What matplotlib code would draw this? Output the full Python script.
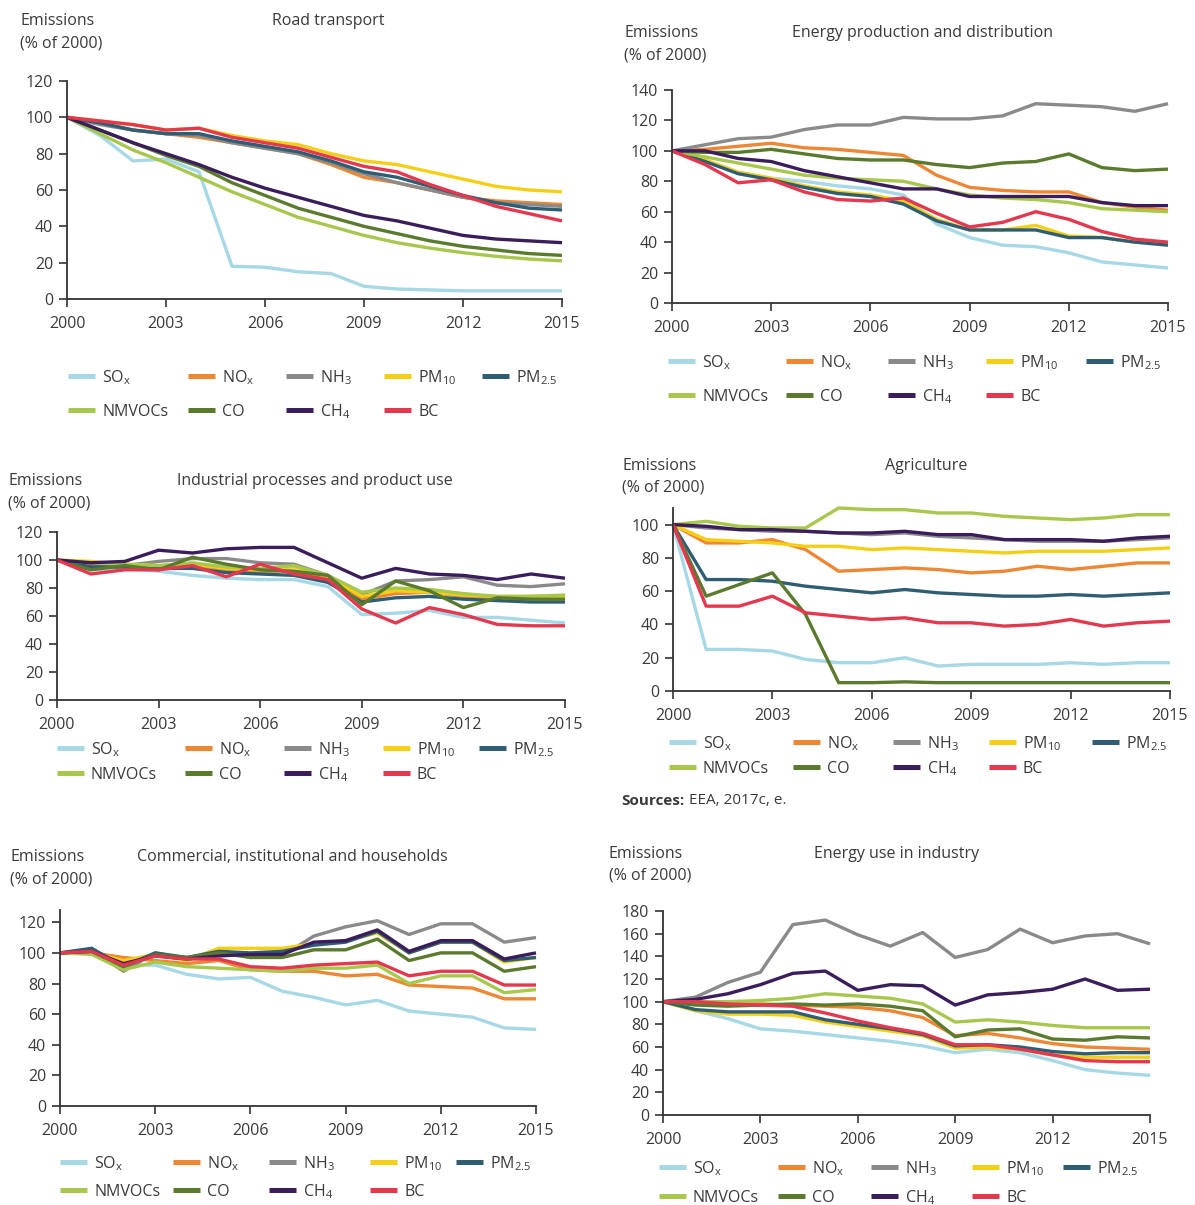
import matplotlib
matplotlib.use("Agg")
import matplotlib.pyplot as plt
from matplotlib.lines import Line2D

plt.rcParams['font.family'] = ['Open Sans', 'DejaVu Sans']
plt.rcParams['mathtext.fontset'] = 'custom'
plt.rcParams['mathtext.rm'] = 'Open Sans'
plt.rcParams['mathtext.it'] = 'Open Sans:italic'
plt.rcParams['mathtext.bf'] = 'Open Sans:bold'

YEARS = list(range(2000, 2016))
X_TICKS = [2000, 2003, 2006, 2009, 2012, 2015]

POLLUTANTS = ['SOx', 'NOx', 'NH3', 'PM10', 'PM2.5', 'NMVOCs', 'CO', 'CH4', 'BC']
LABELS = [r'SO$_\mathrm{x}$', r'NO$_\mathrm{x}$', r'NH$_\mathrm{3}$', r'PM$_\mathrm{10}$',
          r'PM$_\mathrm{2.5}$', 'NMVOCs', 'CO', r'CH$_\mathrm{4}$', 'BC']
COLORS = ['#a6d8e6', '#ee8733', '#8a8a8a', '#f5cf16', '#2f5e74',
          '#a7c84c', '#5a7a2d', '#3b1d5c', '#e4384f']

# Emissions, % of 2000 level, 2000-2015
ROAD = {
    'SOx':    [100, 90, 76, 77, 70, 18, 17.5, 15, 14, 7, 5.5, 5, 4.5, 4.5, 4.5, 4.5],
    'NOx':    [100, 97, 93, 91, 89, 86, 83, 80, 74, 67, 64, 60, 56, 54, 53, 52],
    'NH3':    [100, 96, 93, 91, 90, 86, 83, 80, 75, 69, 64, 60, 56, 53, 52, 51],
    'PM10':   [100, 98, 96, 93, 94, 90, 87, 85, 80, 76, 74, 70, 66, 62, 60, 59],
    'PM2.5':  [100, 97, 93, 91, 91, 87, 84, 81, 76, 70, 67, 62, 57, 53, 50, 49],
    'NMVOCs': [100, 91, 82, 75, 67, 59, 52, 45, 40, 35, 31, 28, 25.5, 23.5, 22, 21],
    'CO':     [100, 93, 86, 79, 73, 64, 57, 50, 45, 40, 36, 32, 29, 27, 25, 24],
    'CH4':    [100, 93, 86, 80, 74, 67, 61, 56, 51, 46, 43, 39, 35, 33, 32, 31],
    'BC':     [100, 98, 96, 93, 94, 89, 86, 83, 78, 73, 70, 63, 57, 51, 47, 43],
}

ENERGY_PROD = {
    'SOx':    [100, 94, 86, 82, 80, 77, 75, 71, 52, 43, 38, 37, 33, 27, 25, 23],
    'NOx':    [100, 101, 103, 105, 102, 101, 99, 97, 84, 76, 74, 73, 73, 66, 63, 61],
    'NH3':    [100, 104, 108, 109, 114, 117, 117, 122, 121, 121, 123, 131, 130, 129, 126, 131],
    'PM10':   [100, 94, 86, 82, 77, 73, 71, 67, 55, 48, 48, 51, 44, 43, 40, 39],
    'PM2.5':  [100, 93, 85, 81, 76, 72, 70, 65, 54, 48, 48, 48, 43, 43, 40, 38],
    'NMVOCs': [100, 96, 92, 88, 84, 82, 81, 80, 75, 71, 69, 68, 66, 62, 61, 60],
    'CO':     [100, 99, 99, 101, 98, 95, 94, 94, 91, 89, 92, 93, 98, 89, 87, 88],
    'CH4':    [100, 100, 95, 93, 87, 83, 79, 75, 75, 70, 70, 70, 70, 66, 64, 64],
    'BC':     [100, 91, 79, 81, 73, 68, 67, 69, 59, 50, 53, 60, 55, 47, 42, 40],
}

INDUSTRIAL = {
    'SOx':    [100, 93, 94, 92, 89, 87, 86, 86, 81, 61, 62, 64, 59, 59, 57, 55],
    'NOx':    [100, 96, 95, 95, 96, 92, 92, 92, 87, 72, 76, 77, 74, 73, 74, 74],
    'NH3':    [100, 95, 96, 99, 101, 101, 98, 97, 89, 75, 85, 86, 88, 82, 81, 83],
    'PM10':   [100, 99, 97, 96, 97, 94, 93, 95, 88, 74, 78, 77, 75, 74, 74, 74],
    'PM2.5':  [100, 95, 95, 94, 94, 91, 90, 89, 84, 70, 73, 74, 72, 71, 70, 70],
    'NMVOCs': [100, 98, 97, 96, 98, 95, 94, 96, 89, 77, 80, 79, 76, 74, 74, 75],
    'CO':     [100, 93, 96, 93, 102, 97, 93, 92, 89, 68, 85, 78, 66, 73, 72, 72],
    'CH4':    [100, 98, 99, 107, 105, 108, 109, 109, 98, 87, 94, 90, 89, 86, 90, 87],
    'BC':     [100, 90, 93, 93, 96, 88, 97, 90, 86, 65, 55, 66, 61, 54, 53, 53],
}

AGRICULTURE = {
    'SOx':    [100, 25, 25, 24, 19, 17, 17, 20, 15, 16, 16, 16, 17, 16, 17, 17],
    'NOx':    [100, 89, 89, 91, 85, 72, 73, 74, 73, 71, 72, 75, 73, 75, 77, 77],
    'NH3':    [100, 98, 97, 96, 96, 95, 94, 95, 93, 92, 91, 90, 90, 90, 91, 92],
    'PM10':   [100, 91, 90, 89, 87, 87, 85, 86, 85, 84, 83, 84, 84, 84, 85, 86],
    'PM2.5':  [100, 67, 67, 66, 63, 61, 59, 61, 59, 58, 57, 57, 58, 57, 58, 59],
    'NMVOCs': [100, 102, 99, 98, 98, 110, 109, 109, 107, 107, 105, 104, 103, 104, 106, 106],
    'CO':     [100, 57, 64, 71, 46, 5, 5, 5.5, 5, 5, 5, 5, 5, 5, 5, 5],
    'CH4':    [100, 99, 97, 97, 96, 95, 95, 96, 94, 94, 91, 91, 91, 90, 92, 93],
    'BC':     [100, 51, 51, 57, 47, 45, 43, 44, 41, 41, 39, 40, 43, 39, 41, 42],
}

COMMERCIAL = {
    'SOx':    [100, 100, 92, 92, 86, 83, 84, 75, 71, 66, 69, 62, 60, 58, 51, 50],
    'NOx':    [100, 100, 97, 95, 93, 95, 89, 88, 88, 85, 86, 79, 78, 77, 70, 70],
    'NH3':    [100, 102, 88, 100, 96, 102, 97, 98, 111, 117, 121, 112, 119, 119, 107, 110],
    'PM10':   [100, 100, 95, 99, 95, 103, 103, 103, 106, 108, 113, 100, 107, 107, 94, 97],
    'PM2.5':  [100, 103, 91, 100, 97, 101, 100, 101, 105, 107, 114, 100, 107, 107, 95, 97],
    'NMVOCs': [100, 99, 89, 94, 91, 90, 89, 88, 90, 90, 92, 80, 85, 85, 74, 76],
    'CO':     [100, 101, 91, 99, 97, 100, 97, 97, 102, 102, 109, 95, 100, 100, 88, 91],
    'CH4':    [100, 101, 93, 98, 96, 98, 99, 99, 107, 108, 115, 101, 108, 108, 96, 100],
    'BC':     [100, 101, 92, 98, 96, 96, 91, 90, 92, 93, 94, 85, 88, 88, 79, 79],
}

ENERGY_IND = {
    'SOx':    [100, 92, 85, 76, 74, 71, 68, 65, 61, 55, 58, 55, 48, 40, 37, 35],
    'NOx':    [100, 99, 98, 98, 97, 96, 95, 92, 86, 70, 72, 68, 63, 60, 59, 58],
    'NH3':    [100, 104, 117, 126, 168, 172, 159, 149, 161, 139, 146, 164, 152, 158, 160, 151],
    'PM10':   [100, 92, 89, 89, 88, 82, 78, 74, 70, 59, 60, 58, 53, 51, 51, 51],
    'PM2.5':  [100, 93, 91, 91, 91, 84, 80, 76, 71, 61, 62, 60, 56, 54, 55, 55],
    'NMVOCs': [100, 100, 100, 101, 103, 107, 105, 103, 98, 82, 84, 82, 79, 77, 77, 77],
    'CO':     [100, 97, 96, 97, 98, 97, 98, 96, 92, 69, 75, 76, 67, 66, 69, 68],
    'CH4':    [100, 102, 107, 115, 125, 127, 110, 115, 114, 97, 106, 108, 111, 120, 110, 111],
    'BC':     [100, 100, 98, 97, 96, 90, 83, 77, 72, 62, 62, 58, 53, 48, 47, 47],
}

W, H = 1195, 1205
TEXT = '#3a3a3a'
FS = 11.5

fig = plt.figure(figsize=(W / 100, H / 100), dpi=100)


def fx(x):
    return x / W


def fy(y):
    return 1 - y / H


def panel(data, title, left, right, y0, ytop, ymax, yticks,
          head_x, head_y, title_x, legend_x, legend_y):
    ax = fig.add_axes([fx(left), fy(y0), (right - left) / W, (y0 - ytop) / H])
    for key, col in zip(POLLUTANTS, COLORS):
        ax.plot(YEARS, data[key], color=col, lw=2.4, solid_joinstyle='round',
                solid_capstyle='butt', clip_on=False)
    ax.set_xlim(2000, 2015)
    ax.set_ylim(0, ymax)
    ax.set_xticks(X_TICKS)
    ax.set_yticks(yticks)
    for s in ('top', 'right'):
        ax.spines[s].set_visible(False)
    for s in ('left', 'bottom'):
        ax.spines[s].set_color('#333333')
        ax.spines[s].set_linewidth(1.3)
    ax.tick_params(axis='both', colors='#333333', labelcolor=TEXT,
                   labelsize=FS, width=1.2, length=6, direction='out')
    ax.tick_params(axis='x', pad=6)
    ax.tick_params(axis='y', pad=4)

    fig.text(fx(head_x), fy(head_y), 'Emissions', fontsize=FS, color=TEXT,
             ha='left', va='center')
    fig.text(fx(head_x), fy(head_y + 22), '(% of 2000)', fontsize=FS, color=TEXT,
             ha='left', va='center')
    fig.text(fx(title_x), fy(head_y), title, fontsize=FS, color=TEXT,
             ha='center', va='center')

    # legend: five keys in the first row, four in the second
    row_gap = legend_y[1] - legend_y[0]
    for i, (lab, col) in enumerate(zip(LABELS, COLORS)):
        row = 0 if i < 5 else 1
        colx = legend_x[i if i < 5 else i - 5]
        y = legend_y[0] + row * row_gap
        fig.add_artist(Line2D([fx(colx), fx(colx + 27)], [fy(y), fy(y)],
                              transform=fig.transFigure, color=col, lw=3.6,
                              solid_capstyle='butt'))
        fig.text(fx(colx + 34), fy(y + 6), lab, fontsize=FS, color=TEXT,
                 ha='left', va='baseline')
    return ax


panel(ROAD, 'Road transport', 67, 562, 299, 81, 120, range(0, 121, 20),
      20, 21, 328, [68, 188, 286, 384, 482], [376, 410])
panel(ENERGY_PROD, 'Energy production and distribution', 672, 1168, 303, 90, 140,
      range(0, 141, 20), 624, 33, 922, [668, 786, 888, 986, 1086], [361, 395])
panel(INDUSTRIAL, 'Industrial processes and product use', 57, 565, 700, 532, 120,
      range(0, 121, 20), 8, 481, 315, [57, 185, 284, 383, 479], [748, 773])
panel(AGRICULTURE, 'Agriculture', 673, 1170, 691, 508, 110, range(0, 101, 20),
      622, 466, 926, [669, 793, 893, 989, 1092], [742, 767])
panel(COMMERCIAL, 'Commercial, institutional and households', 60, 536, 1106, 910, 128,
      range(0, 121, 20), 10, 857, 292, [60, 173, 269, 370, 456], [1162, 1190])
panel(ENERGY_IND, 'Energy use in industry', 663, 1150, 1115, 911, 180,
      range(0, 181, 20), 609, 854, 897, [659, 778, 871, 972, 1063], [1167, 1196])

fig.text(fx(621), fy(801), 'Sources:', fontsize=FS - 0.5, fontweight='bold',
         color=TEXT, ha='left', va='center')
fig.text(fx(689), fy(801), 'EEA, 2017c, e.', fontsize=FS - 0.5,
         color=TEXT, ha='left', va='center')

fig.savefig('out.png', dpi=100, facecolor='white')
